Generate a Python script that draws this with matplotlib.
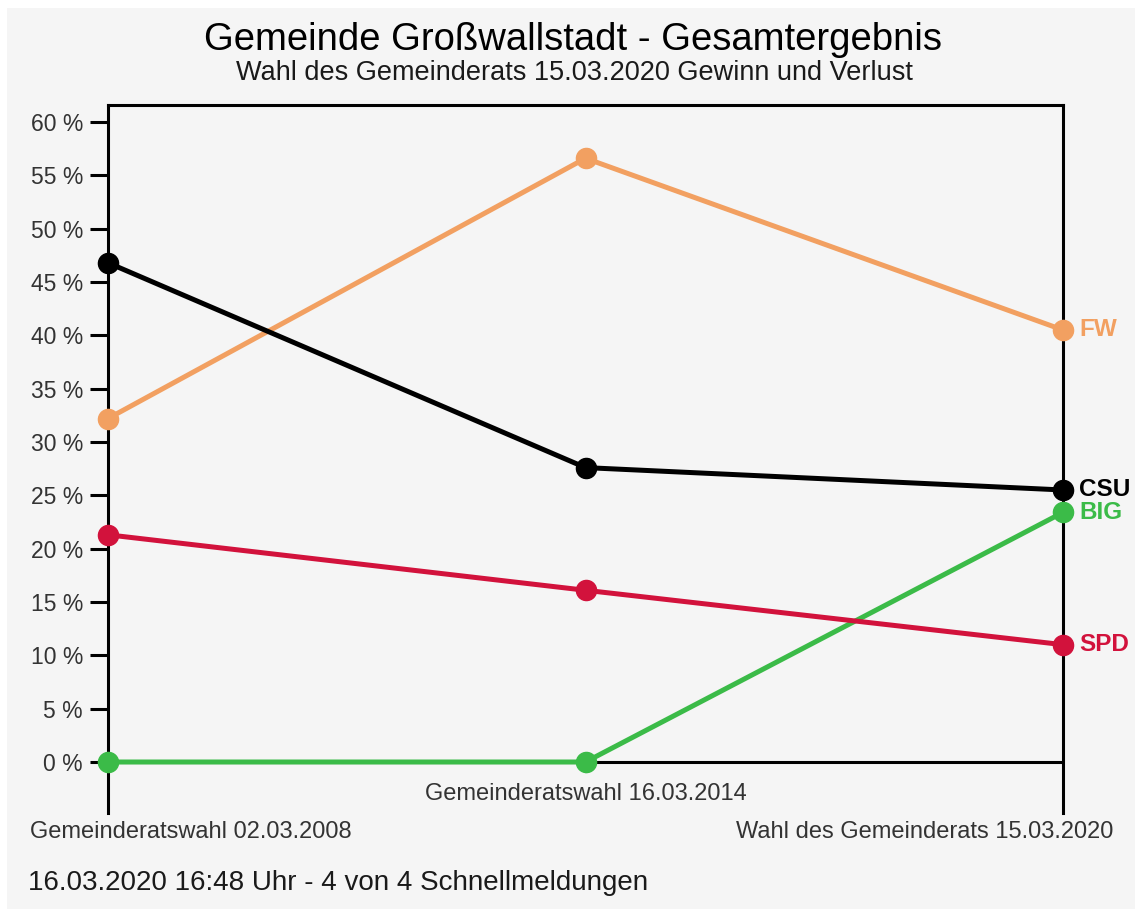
import matplotlib
matplotlib.use("Agg")
import matplotlib.pyplot as plt
from matplotlib.patches import Rectangle

plt.rcParams['font.family'] = ['Liberation Sans', 'DejaVu Sans']

categories = ["Gemeinderatswahl 02.03.2008", "Gemeinderatswahl 16.03.2014",
              "Wahl des Gemeinderats 15.03.2020"]
parties = ["FW", "CSU", "BIG", "SPD"]
fw = [32.2, 56.6, 40.5]
csu = [46.8, 27.6, 25.5]
big = [0.0, 0.0, 23.4]
spd = [21.3, 16.1, 11.0]
colors = {"FW": "#f2a061", "CSU": "#000000", "BIG": "#3bbb48", "SPD": "#d2123c"}
yticks = [0, 5, 10, 15, 20, 25, 30, 35, 40, 45, 50, 55, 60]
title = "Gemeinde Großwallstadt - Gesamtergebnis"
subtitle = "Wahl des Gemeinderats 15.03.2020 Gewinn und Verlust"
footer = "16.03.2020 16:48 Uhr - 4 von 4 Schnellmeldungen"

W, H = 1135, 909
fig = plt.figure(figsize=(W / 100, H / 100), dpi=100)
fig.patch.set_facecolor("white")
fig.add_artist(Rectangle((7 / W, 0), 1, 1 - 8 / H, transform=fig.transFigure,
                         facecolor="#f5f5f5", edgecolor="none", zorder=0))

y0, ytop, ybot = 762, 105, 813
ppu = (762 - 122) / 60.0
ymax = (y0 - ytop) / ppu
ymin = -(ybot - y0) / ppu
ax = fig.add_axes([108 / W, (H - ybot) / H, (1063 - 108) / W, (ybot - ytop) / H])
ax.set_facecolor("none")
ax.set_xlim(0, 2)
ax.set_ylim(ymin, ymax)
ax.spines["bottom"].set_visible(False)
for s in ["left", "right", "top"]:
    ax.spines[s].set_linewidth(2.2)
    ax.spines[s].set_color("black")

ax.axhline(0, color="black", lw=2.2, zorder=1)
ax.plot([1, 1], [0, -10 / ppu], color="black", lw=1.5, zorder=1)

ax.set_yticks(yticks)
ax.set_yticklabels([f"{v} %" for v in yticks], fontsize=16.5, color="#333333")
ax.tick_params(axis="y", direction="out", length=13, width=2.2, pad=5, color="black")
ax.set_xticks([])

xs = list(range(len(categories)))
series = {"FW": fw, "CSU": csu, "BIG": big, "SPD": spd}
order = ["BIG", "SPD", "FW", "CSU"]
for p in order:
    ax.plot(xs, series[p], color=colors[p], lw=3.6, marker="o", ms=14.5,
            clip_on=False, zorder=3, solid_capstyle="round")

for p in parties:
    ax.annotate(p, (xs[-1], series[p][-1]), xytext=(16, 0), textcoords="offset pixels",
                ha="left", va="center", fontsize=17.5, fontweight="bold", color=colors[p],
                annotation_clip=False)

# x labels
fig.text(30 / W, 1 - 838 / H, categories[0], ha="left", va="baseline", fontsize=17, color="#333333")
ax.annotate(categories[1], (1, 0), xytext=(0, -(800 - 762)), textcoords="offset pixels",
            ha="center", va="baseline", fontsize=17, color="#333333", annotation_clip=False)
fig.text(1113 / W, 1 - 838 / H, categories[2], ha="right", va="baseline", fontsize=17, color="#333333")

fig.text(573 / W, 1 - 50 / H, title, ha="center", va="baseline", fontsize=27.5, color="#000000")
fig.text(574 / W, 1 - 80 / H, subtitle, ha="center", va="baseline", fontsize=19.5, color="#1a1a1a")
fig.text(28 / W, 1 - 890 / H, footer, ha="left", va="baseline", fontsize=20, color="#1a1a1a")

fig.savefig("out.png", dpi=100, facecolor=fig.get_facecolor())
